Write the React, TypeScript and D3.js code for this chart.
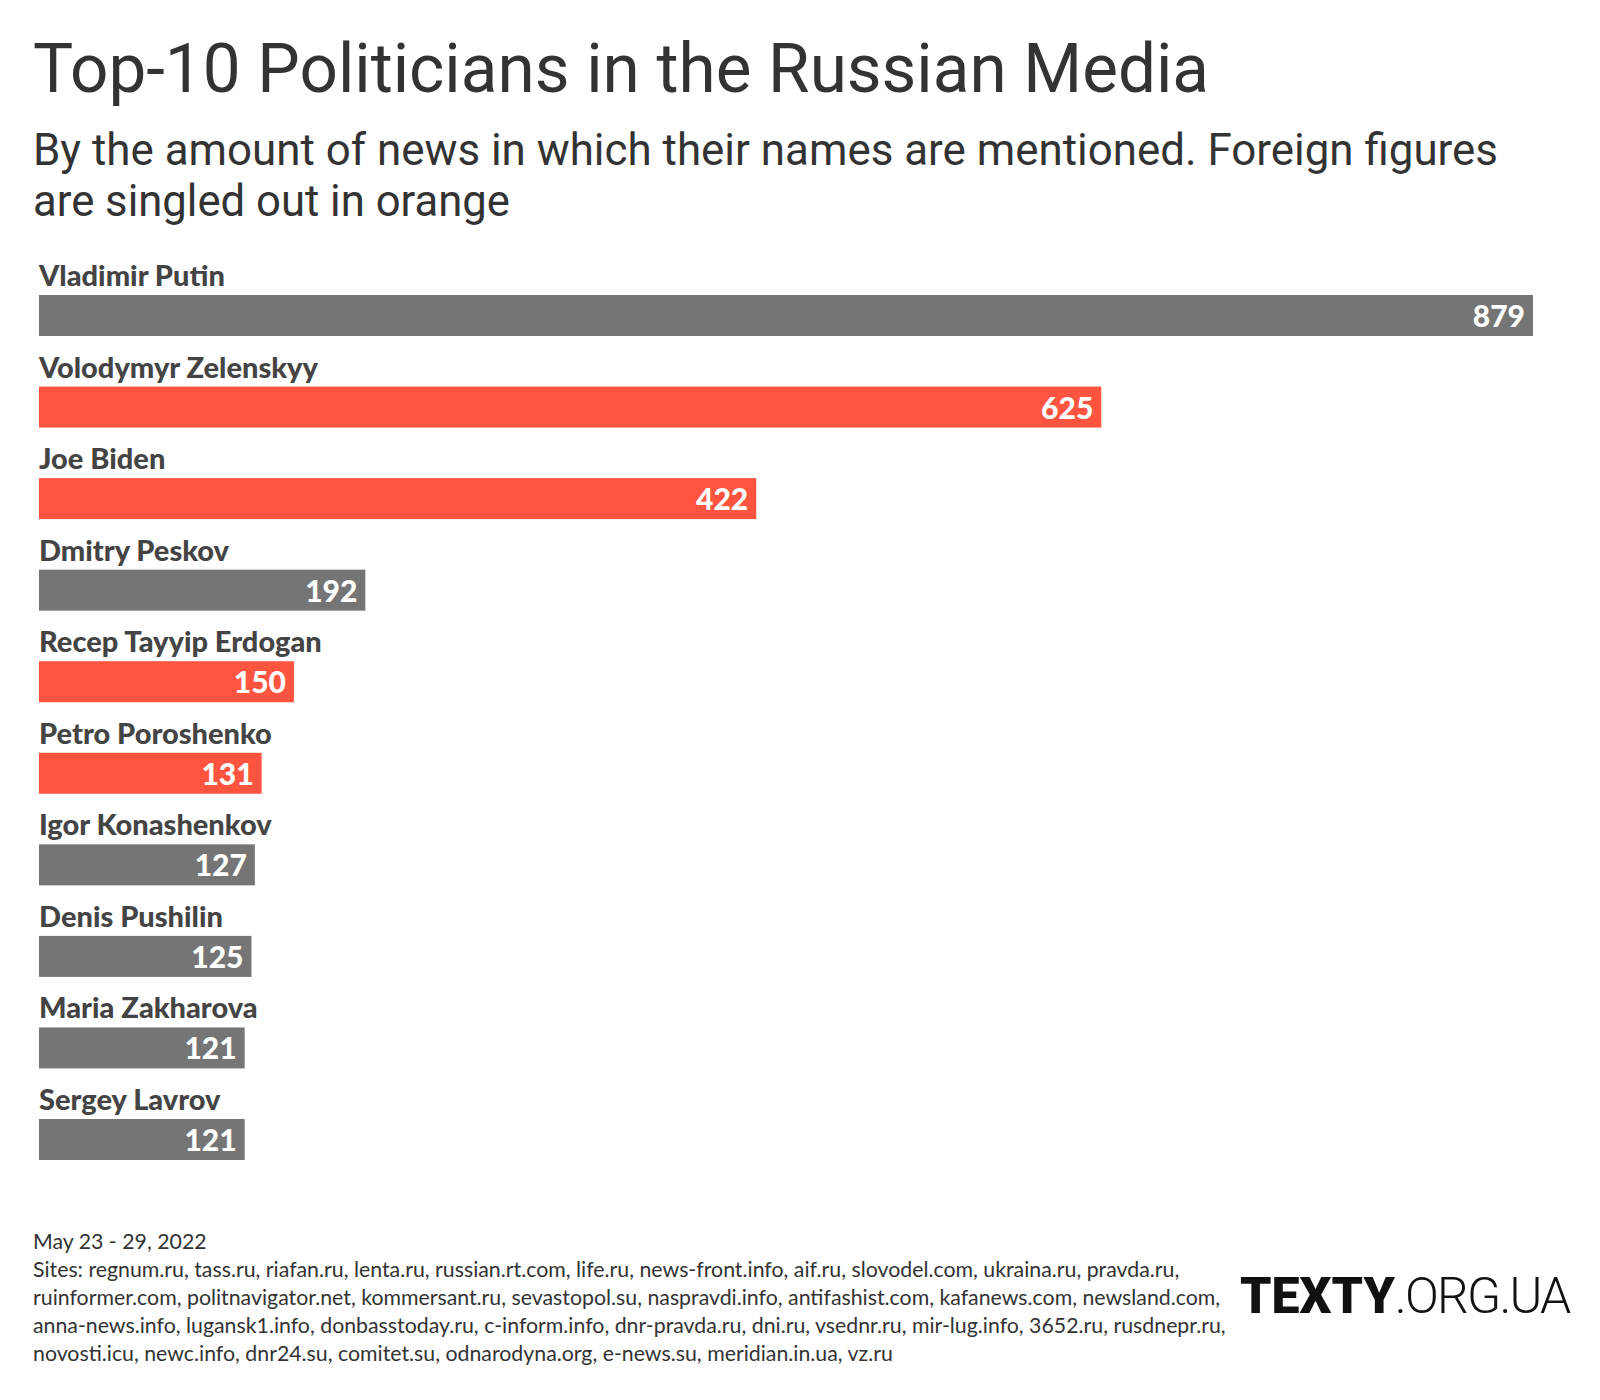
import React from "react";
import * as d3 from "d3";

const names = [
  "Vladimir Putin",
  "Volodymyr Zelenskyy",
  "Joe Biden",
  "Dmitry Peskov",
  "Recep Tayyip Erdogan",
  "Petro Poroshenko",
  "Igor Konashenkov",
  "Denis Pushilin",
  "Maria Zakharova",
  "Sergey Lavrov",
];
const mentions = [879, 625, 422, 192, 150, 131, 127, 125, 121, 121];
const foreign = [false, true, true, false, true, true, false, false, false, false];

const title = "Top-10 Politicians in the Russian Media";
const subtitleLines = [
  "By the amount of news in which their names are mentioned. Foreign figures",
  "are singled out in orange",
];
const footerLines = [
  "May 23 - 29, 2022",
  "Sites: regnum.ru, tass.ru, riafan.ru, lenta.ru, russian.rt.com, life.ru, news-front.info, aif.ru, slovodel.com, ukraina.ru, pravda.ru,",
  "ruinformer.com, politnavigator.net, kommersant.ru, sevastopol.su, naspravdi.info, antifashist.com, kafanews.com, newsland.com,",
  "anna-news.info, lugansk1.info, donbasstoday.ru, c-inform.info, dnr-pravda.ru, dni.ru, vsednr.ru, mir-lug.info, 3652.ru, rusdnepr.ru,",
  "novosti.icu, newc.info, dnr24.su, comitet.su, odnarodyna.org, e-news.su, meridian.in.ua, vz.ru",
];

const GRAY = "#757575";
const ORANGE = "#FF5540";

export default function App() {
  const W = 1600;
  const H = 1400;
  const x = d3.scaleLinear().domain([0, 879]).range([39, 1533]);
  const y = d3.scalePoint<string>().domain(names).range([295, 1119]);
  const barH = 41;

  return (
    <svg
      width={W}
      height={H}
      style={{ position: "absolute", left: 0, top: 0, display: "block", background: "#fff" }}
    >
      <rect x={0} y={0} width={W} height={H} fill="#fff" />
      <text
        x={33}
        y={92}
        fontFamily="Roboto"
        fontWeight={400}
        fontSize={68}
        fill="#333"
        textLength={1176}
        lengthAdjust="spacingAndGlyphs"
      >
        {title}
      </text>
      {subtitleLines.map((l, i) => (
        <text
          key={i}
          x={33}
          y={165 + i * 51}
          fontFamily="Roboto"
          fontWeight={400}
          fontSize={44}
          fill="#333"
          textLength={i === 0 ? 1465 : 477}
          lengthAdjust="spacingAndGlyphs"
        >
          {l}
        </text>
      ))}
      {names.map((n, i) => {
        const yy = y(n) as number;
        return (
          <g key={n}>
            <text
              x={39}
              y={yy - 9}
              fontFamily="Lato"
              fontWeight={900}
              fontSize={29}
              fill="#444"
            >
              {n}
            </text>
            <rect
              x={x(0)}
              y={yy}
              width={x(mentions[i]) - x(0)}
              height={barH}
              fill={foreign[i] ? ORANGE : GRAY}
            />
            <text
              x={x(mentions[i]) - 8}
              y={yy + 32}
              textAnchor="end"
              fontFamily="Lato"
              fontWeight={900}
              fontSize={30}
              fill="#fff"
            >
              {mentions[i]}
            </text>
          </g>
        );
      })}
      {footerLines.map((l, i) => (
        <text
          key={i}
          x={33}
          y={1249 + i * 28}
          fontFamily="Lato"
          fontSize={21.3}
          fill="#333"
        >
          {l}
        </text>
      ))}
      <text x={1240} y={1313} fontFamily="Roboto" fontSize={50} fill="#111">
        <tspan fontWeight={900}>TEXTY</tspan>
        <tspan fontWeight={300} letterSpacing={-1.8}>.ORG.UA</tspan>
      </text>
    </svg>
  );
}
